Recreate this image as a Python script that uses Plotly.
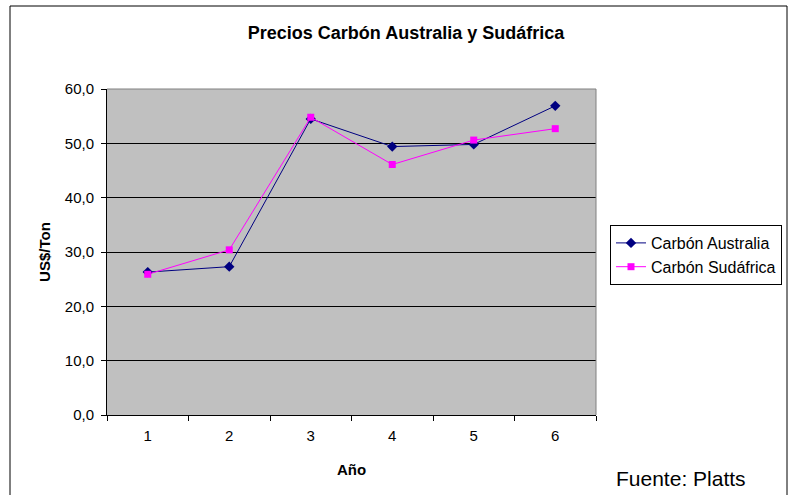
import plotly.graph_objects as go

anios = ["1", "2", "3", "4", "5", "6"]
australia = [26.3, 27.3, 54.5, 49.4, 49.8, 56.9]
sudafrica = [25.9, 30.4, 54.8, 46.1, 50.6, 52.7]
y_ticks = [0, 10, 20, 30, 40, 50, 60]

W, H = 790, 495
L, R, T, B = 107, 596, 89, 415  # plot area pixel edges

fig = go.Figure()
fig.add_trace(go.Scatter(
    x=anios, y=australia, name="Carbón Australia", mode="lines+markers",
    line=dict(color="#000080", width=1),
    marker=dict(symbol="diamond", size=8, color="#000080"),
))
fig.add_trace(go.Scatter(
    x=anios, y=sudafrica, name="Carbón Sudáfrica", mode="lines+markers",
    line=dict(color="#FF00FF", width=1),
    marker=dict(symbol="square", size=7, color="#FF00FF"),
))

def px(xp):
    return (xp - L) / (R - L)

def py(yp):
    return (B - yp) / (B - T)

font = "Liberation Sans, Arial, sans-serif"

fig.update_layout(
    width=W, height=H,
    margin=dict(l=L, r=W - R, t=T, b=H - B, autoexpand=False),
    paper_bgcolor="white",
    plot_bgcolor="#C0C0C0",
    separators=",.",
    font=dict(family=font, size=15, color="black"),
    title=dict(text="<b>Precios Carbón Australia y Sudáfrica</b>",
               x=px(406), xref="paper", xanchor="center",
               y=1 - 33 / H, yanchor="middle",
               font=dict(size=18, family=font)),
    xaxis=dict(
        type="category", range=[-0.5, 5.5], tickson="boundaries",
        ticks="outside", ticklen=5, tickcolor="black",
        showline=True, linecolor="black", linewidth=1,
        showgrid=False, zeroline=False,
        tickfont=dict(size=15), ticklabelstandoff=7,
        title=dict(text="<b>Año</b>", font=dict(size=15), standoff=21),
    ),
    yaxis=dict(
        range=[0, 60], tickvals=y_ticks, tickformat=".1f",
        ticks="outside", ticklen=5, tickcolor="black",
        showline=True, linecolor="black", linewidth=1,
        showgrid=True, gridcolor="black", gridwidth=1,
        zeroline=False, tickfont=dict(size=15), ticklabelstandoff=4,
        title=dict(text="<b>US$/Ton</b>", font=dict(size=15), standoff=10),
    ),
    legend=dict(
        x=px(610), y=py(225), xanchor="left", yanchor="top",
        bgcolor="white", bordercolor="black", borderwidth=1,
        font=dict(size=16, family=font),
        tracegroupgap=0, itemwidth=30,
    ),
    shapes=[
        # outer chart border
        dict(type="rect", xref="paper", yref="paper",
             x0=px(10), x1=px(787), y0=py(500), y1=py(6),
             line=dict(color="black", width=1), fillcolor="rgba(0,0,0,0)",
             layer="above"),
        # plot area border (top/right)
        dict(type="line", xref="paper", yref="paper",
             x0=0, x1=1, y0=1, y1=1, line=dict(color="#808080", width=1)),
        dict(type="line", xref="paper", yref="paper",
             x0=1, x1=1, y0=0, y1=1, line=dict(color="#808080", width=1)),
    ],
    annotations=[
        dict(text="Fuente: Platts", xref="paper", yref="paper",
             x=px(614), y=py(478), xanchor="left", yanchor="middle",
             showarrow=False, font=dict(size=21, family=font)),
    ],
)

fig.write_html("out.html", config={"displayModeBar": False},
               post_script="document.body.style.margin='0px';")
